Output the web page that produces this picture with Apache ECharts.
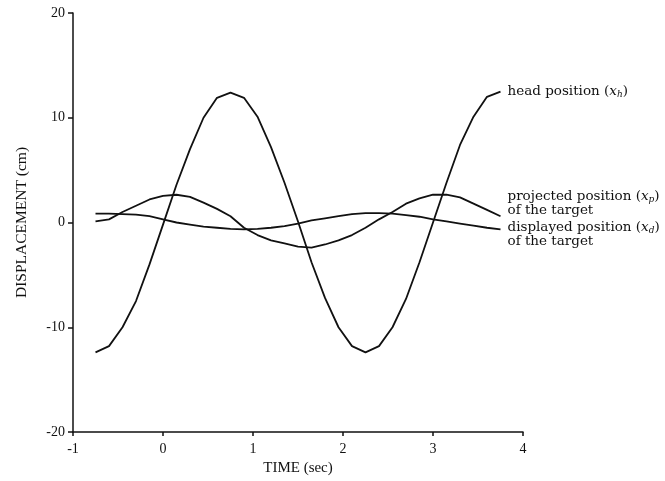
<!DOCTYPE html>
<html>
<head>
<meta charset="utf-8">
<script src="https://cdn.jsdelivr.net/npm/echarts@6/dist/echarts.min.js"></script>
<style>
  html, body { margin: 0; padding: 0; background: #fff; }
  #chart { width: 665px; height: 481px; }
</style>
</head>
<body>
<div id="chart"></div>
<script>
// time samples (sec)
const times = [-0.75, -0.6, -0.45, -0.3, -0.15, 0, 0.15, 0.3, 0.45, 0.6, 0.75, 0.9, 1.05, 1.2, 1.35, 1.5,
  1.65, 1.8, 1.95, 2.1, 2.25, 2.4, 2.55, 2.7, 2.85, 3.0, 3.15, 3.3, 3.45, 3.6, 3.75];

// head position x_h (cm)
const headPos = [-12.4, -11.8, -10.0, -7.5, -4.0, -0.2, 3.6, 7.0, 10.0, 11.9, 12.4, 11.9, 10.1, 7.2, 3.8, 0.1,
  -3.8, -7.2, -10.0, -11.8, -12.4, -11.8, -10.0, -7.3, -3.8, 0.0, 3.8, 7.4, 10.1, 12.0, 12.5];

// projected position of the target x_p (cm)
const projectedPos = [0.1, 0.3, 1.0, 1.6, 2.2, 2.55, 2.65, 2.45, 1.9, 1.3, 0.6, -0.5, -1.2, -1.7, -2.0, -2.3,
  -2.4, -2.1, -1.7, -1.2, -0.5, 0.3, 1.0, 1.8, 2.3, 2.65, 2.65, 2.4, 1.8, 1.2, 0.6];

// displayed position of the target x_d (cm)
const displayedPos = [0.85, 0.85, 0.8, 0.75, 0.6, 0.3, 0.0, -0.2, -0.4, -0.5, -0.6, -0.65, -0.6, -0.5, -0.35, -0.1,
  0.2, 0.4, 0.6, 0.8, 0.9, 0.9, 0.85, 0.7, 0.55, 0.3, 0.1, -0.1, -0.3, -0.5, -0.65];

const serif = '"Liberation Serif", "Times New Roman", serif';
const labelFont = '"DejaVu Serif", serif';

const richStyles = {
  n: { fontFamily: labelFont, fontSize: 13.5, color: '#111' },
  i: { fontFamily: labelFont, fontSize: 13.5, fontStyle: 'italic', color: '#111' },
  s: { fontFamily: labelFont, fontSize: 9, fontStyle: 'italic', color: '#111', padding: [6, 0, 0, 0] }
};

const pairs = vals => times.map((t, k) => [t, vals[k]]);

function curve(name, vals, label, offset) {
  return {
    name,
    type: 'line',
    data: pairs(vals),
    showSymbol: false,
    smooth: false,
    lineStyle: { color: '#111', width: 1.8 },
    endLabel: {
      show: true,
      formatter: label,
      distance: 7,
      offset,
      align: 'left',
      verticalAlign: 'middle',
      lineHeight: 14,
      rich: richStyles
    },
    silent: true,
    animation: false
  };
}

const chart = echarts.init(document.getElementById('chart'));

chart.setOption({
  backgroundColor: '#fff',
  animation: false,
  grid: { left: 73, right: 142, top: 13, bottom: 47 },
  xAxis: {
    type: 'value',
    min: -1,
    max: 4,
    interval: 1,
    name: 'TIME (sec)',
    nameLocation: 'middle',
    nameGap: 29,
    nameTextStyle: { fontFamily: serif, fontSize: 15, color: '#111' },
    axisLine: { onZero: false, lineStyle: { color: '#111', width: 1.5 } },
    axisTick: { length: 4, lineStyle: { color: '#111', width: 1.5 } },
    axisLabel: { margin: 10, fontFamily: serif, fontSize: 14, color: '#111' },
    splitLine: { show: false }
  },
  yAxis: {
    type: 'value',
    min: -20,
    max: 20,
    interval: 10,
    name: 'DISPLACEMENT (cm)',
    nameLocation: 'middle',
    nameRotate: 90,
    nameGap: 43,
    nameTextStyle: { fontFamily: serif, fontSize: 15.5, color: '#111' },
    axisLine: { show: true, onZero: false, lineStyle: { color: '#111', width: 1.5 } },
    axisTick: { show: true, length: 5, lineStyle: { color: '#111', width: 1.5 } },
    axisLabel: { margin: 8, fontFamily: serif, fontSize: 14, color: '#111' },
    splitLine: { show: false }
  },
  series: [
    curve('head', headPos, '{n|head position (}{i|x}{s|h}{n|)}', [0, 0]),
    curve('projected', projectedPos, '{n|projected position (}{i|x}{s|p}{n|)}\n{n|of the target}', [0, -13]),
    curve('displayed', displayedPos, '{n|displayed position (}{i|x}{s|d}{n|)}\n{n|of the target}', [0, 5])
  ]
});
</script>
</body>
</html>
